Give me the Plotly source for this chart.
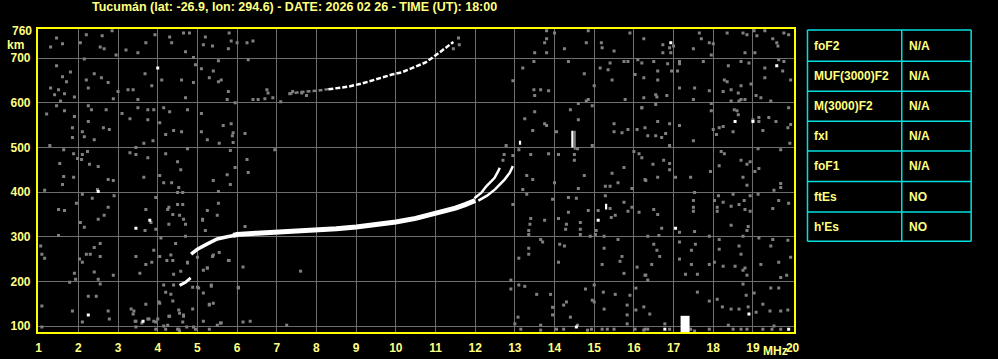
import plotly.graph_objects as go

W, H = 998, 359

TITLE = "Tucumán (lat: -26.9, lon: 294.6) - DATE: 2026 02 26 - TIME (UT): 18:00"
FREQ_TICKS = list(range(1, 21))
HEIGHT_TICKS = [100, 200, 300, 400, 500, 600, 700]

# ---- echo traces (frequency MHz, virtual height km) ----
E_LOW_F = [4.55, 4.70, 4.83]
E_LOW_H = [191, 198, 208]

F_LEAD_F = [4.84, 5.0, 5.25, 5.5, 5.75, 6.0]
F_LEAD_H = [261, 272, 284, 295, 300, 304]

F_MAIN_F = [5.9, 6.0, 6.5, 7.0, 7.5, 8.0, 8.5, 9.0, 9.5, 10.0, 10.5, 11.0, 11.5, 11.75, 12.0]
F_MAIN_H = [303, 305, 308, 310, 312, 315, 318, 322, 327, 333, 341, 352, 364, 372, 381]

BRANCH_O_F = [11.98, 12.15, 12.28, 12.49, 12.58, 12.62]
BRANCH_O_H = [386, 398, 413, 432, 447, 454]

BRANCH_X_F = [12.08, 12.3, 12.5, 12.74, 12.87, 12.95]
BRANCH_X_H = [381, 392, 406, 428, 443, 458]

HOP2_GRAY_F = [7.3, 7.6, 8.0, 8.35]
HOP2_GRAY_H = [620, 624, 627, 631]
HOP2_F = [8.3, 8.8, 9.15, 9.55, 9.9, 10.15, 10.4, 10.75, 11.08, 11.3, 11.45]
HOP2_H = [630, 636, 643, 654, 663, 668, 677, 690, 711, 726, 736]

# short vertical echoes: (freq, h_bottom, h_top)
WHITE_BARS = [(14.45, 500, 537), (15.30, 361, 374), (13.13, 506, 515)]
GRAY_BARS = [(14.51, 495, 537)]
BLOCK = (17.29, 86, 123)

# ---- scattered noise (freq, height) ----
NOISE = [
    (1.45, 745), (1.30, 725), (1.60, 732), (2.20, 752), (2.60, 750), (2.05, 734), (2.85, 761), (2.55, 725),
    (2.65, 721), (2.95, 707), (2.15, 698), (1.45, 683), (1.80, 669), (1.60, 658), (1.70, 647), (1.30, 633),
    (1.40, 618), (1.65, 620), (1.50, 629), (1.90, 613), (1.55, 604), (1.45, 593), (1.65, 582), (1.20, 575),
    (1.90, 569), (2.20, 651), (2.25, 633), (2.40, 665), (2.58, 656), (2.75, 645), (2.88, 609), (2.25, 593),
    (2.33, 584), (2.25, 558), (2.70, 584), (1.85, 544), (1.85, 522), (2.10, 535), (2.15, 524), (2.40, 517),
    (2.63, 544), (2.78, 540), (1.28, 504), (1.63, 495), (1.88, 486), (2.10, 484), (2.23, 491), (1.98, 475),
    (1.53, 464), (1.88, 433), (1.63, 435), (2.08, 473), (2.28, 462), (2.50, 457), (2.88, 426), (2.75, 428),
    (1.60, 417), (1.15, 404), (2.48, 406), (2.10, 395), (2.35, 386), (2.90, 392), (1.95, 375), (1.50, 361),
    (1.65, 359), (2.05, 332), (2.15, 321), (2.50, 339), (2.75, 366), (2.65, 348), (1.50, 303), (1.05, 279),
    (1.08, 261), (1.15, 252), (2.40, 276), (2.55, 285), (2.55, 256), (2.20, 261), (2.30, 261), (2.03, 250),
    (2.10, 243), (1.90, 218), (1.78, 198), (1.93, 205), (2.40, 221), (2.88, 214), (2.50, 205), (2.55, 194),
    (1.08, 145), (2.25, 167), (2.45, 167), (1.85, 134), (2.75, 134), (2.78, 116), (2.10, 109), (1.08, 98),
    (4.30, 747), (4.65, 756), (4.80, 756), (4.35, 734), (3.70, 734), (3.93, 752), (5.20, 747), (5.80, 756),
    (5.85, 738), (6.00, 734), (6.25, 734), (6.40, 738), (5.78, 721), (5.38, 727), (5.15, 730), (4.70, 714),
    (3.50, 712), (3.20, 718), (4.90, 701), (5.53, 694), (6.28, 696), (4.95, 685), (5.10, 676), (5.40, 671),
    (3.68, 665), (4.10, 651), (4.60, 651), (4.90, 645), (5.30, 656), (5.60, 651), (5.53, 647), (3.85, 638),
    (3.25, 629), (3.38, 629), (3.00, 625), (3.50, 607), (4.70, 611), (5.78, 625), (5.75, 607), (5.95, 600),
    (6.40, 607), (6.53, 607), (6.70, 609), (6.75, 629), (6.78, 622), (6.90, 611), (7.10, 602), (7.33, 620),
    (7.40, 625), (7.63, 622), (7.75, 616), (3.50, 589), (3.75, 584), (3.90, 584), (4.15, 589), (4.30, 580),
    (4.75, 584), (5.10, 576), (3.10, 576), (3.30, 564), (3.75, 562), (4.05, 555), (4.20, 529), (4.40, 538),
    (4.60, 535), (5.25, 517), (5.55, 509), (5.65, 549), (5.85, 553), (5.90, 533), (5.88, 526), (5.90, 511),
    (6.20, 531), (5.10, 535), (3.65, 509), (3.88, 515), (3.45, 500), (3.30, 488), (3.45, 484), (3.75, 477),
    (4.20, 486), (4.75, 497), (4.50, 468), (4.58, 450), (5.83, 493), (6.25, 473), (6.95, 495), (5.95, 455),
    (5.75, 439), (6.28, 444), (4.05, 437), (3.65, 433), (4.15, 421), (4.35, 421), (4.53, 410), (5.40, 426),
    (5.83, 417), (5.53, 401), (4.50, 399), (4.63, 399), (3.95, 388), (3.70, 361), (4.25, 361), (4.28, 366),
    (4.50, 372), (4.63, 372), (4.55, 348), (4.65, 339), (4.38, 350), (4.28, 328), (3.83, 332), (3.68, 314),
    (3.95, 317), (5.25, 359), (5.13, 337), (5.50, 348), (5.53, 375), (5.20, 314), (4.70, 301), (4.08, 297),
    (4.45, 285), (3.90, 270), (3.45, 256), (4.05, 256), (4.23, 247), (4.38, 247), (3.70, 238), (3.85, 243),
    (4.75, 241), (5.25, 230), (5.38, 256), (5.78, 247), (6.15, 232), (3.55, 218), (4.40, 216), (4.15, 192),
    (4.40, 192), (4.03, 154), (4.38, 156), (3.70, 149), (4.20, 176), (4.33, 171), (5.03, 185), (5.15, 174),
    (5.35, 192), (5.30, 149), (5.40, 151), (4.53, 136), (4.65, 125), (4.28, 122), (3.75, 116), (3.43, 111),
    (3.38, 127), (3.95, 109), (4.15, 100), (4.53, 93), (5.15, 111), (5.58, 107), (6.03, 185), (6.15, 109),
    (6.33, 111), (7.25, 102), (7.60, 223), (4.33, 259), (3.33, 138), (3.40, 134), (4.05, 151), (4.30, 122),
    (4.65, 122), (4.55, 129), (4.88, 138), (3.45, 111), (3.78, 116), (3.90, 111), (4.00, 116), (3.60, 107),
    (4.25, 102), (3.95, 93), (4.20, 93), (4.50, 93), (4.55, 89), (4.73, 98), (4.90, 98), (4.95, 93),
    (3.45, 98), (4.63, 109), (5.30, 93), (5.50, 102), (5.60, 107), (5.30, 147), (4.70, 328), (5.13, 339),
    (6.20, 323), (5.40, 259), (5.55, 265), (5.80, 247), (4.75, 243), (5.00, 254), (5.25, 230), (5.15, 225),
    (4.58, 223), (5.00, 187), (4.88, 187), (5.35, 189), (6.03, 187), (11.58, 745), (11.60, 730), (11.45, 721),
    (13.80, 761), (14.00, 756), (14.85, 761), (15.90, 756), (13.80, 743), (13.75, 734), (14.80, 734), (15.18, 734),
    (15.20, 723), (14.25, 721), (15.50, 716), (16.25, 743), (13.50, 712), (13.80, 712), (13.48, 692), (14.35, 692),
    (13.20, 678), (15.40, 689), (15.75, 692), (15.85, 692), (15.15, 678), (15.35, 674), (16.10, 696), (16.20, 689),
    (16.03, 663), (14.75, 665), (16.25, 656), (15.45, 651), (12.95, 649), (13.48, 629), (13.65, 629), (13.85, 627),
    (13.50, 616), (15.00, 638), (14.85, 607), (14.80, 604), (15.78, 607), (16.25, 611), (14.60, 598), (14.95, 593),
    (14.40, 584), (16.20, 589), (13.50, 580), (13.25, 564), (14.60, 562), (13.75, 553), (13.80, 549), (15.50, 553),
    (13.45, 538), (14.05, 535), (15.50, 535), (15.70, 533), (15.85, 540), (16.08, 540), (16.28, 544), (14.58, 497),
    (12.78, 504), (13.10, 495), (13.40, 484), (13.85, 486), (14.10, 484), (14.50, 484), (14.50, 471), (14.95, 504),
    (16.00, 491), (16.13, 486), (16.20, 477), (12.70, 471), (12.73, 484), (12.95, 482), (13.30, 437), (13.45, 428),
    (14.00, 421), (14.75, 437), (15.45, 442), (15.75, 455), (15.60, 421), (15.28, 413), (15.40, 413), (14.60, 408),
    (15.95, 408), (16.28, 428), (12.95, 372), (13.30, 395), (13.20, 406), (13.95, 384), (14.35, 388), (14.55, 386),
    (15.28, 392), (15.40, 363), (15.10, 359), (14.85, 359), (15.53, 348), (15.43, 343), (15.75, 377), (15.95, 366),
    (16.13, 355), (15.85, 357), (13.40, 341), (13.75, 337), (14.10, 341), (14.35, 355), (14.65, 332), (14.30, 328),
    (15.05, 314), (15.03, 305), (15.25, 301), (14.65, 317), (13.38, 328), (13.35, 314), (13.35, 305), (13.65, 294),
    (13.70, 288), (14.28, 317), (14.65, 305), (14.90, 301), (15.60, 294), (14.13, 283), (14.25, 279), (13.35, 274),
    (13.35, 261), (13.10, 252), (14.10, 243), (15.25, 274), (15.70, 256), (15.65, 245), (15.75, 218), (16.08, 232),
    (16.28, 214), (15.20, 238), (12.90, 203), (12.90, 183), (13.10, 192), (13.25, 189), (15.00, 192), (14.78, 183),
    (13.55, 171), (13.90, 171), (14.30, 154), (14.23, 147), (13.95, 142), (14.95, 158), (15.00, 154), (15.23, 176),
    (15.53, 171), (15.90, 169), (16.05, 185), (15.83, 147), (15.25, 138), (13.08, 120), (13.95, 125), (14.40, 120),
    (15.83, 125), (16.05, 136), (16.25, 143), (13.00, 105), (13.15, 93), (13.65, 102), (13.65, 91), (14.05, 93),
    (14.23, 93), (14.58, 102), (14.83, 91), (14.93, 93), (15.20, 93), (15.33, 93), (15.50, 93), (15.83, 105),
    (16.03, 93), (16.25, 91), (16.90, 723), (16.93, 712), (16.73, 712), (16.73, 730), (17.00, 727), (17.65, 756),
    (17.70, 743), (17.90, 734), (18.00, 732), (17.95, 707), (18.35, 756), (18.75, 756), (18.85, 752), (19.03, 761),
    (19.30, 761), (19.10, 750), (19.50, 743), (19.60, 734), (19.78, 756), (19.90, 752), (19.63, 727), (17.50, 721),
    (18.80, 712), (19.05, 712), (16.50, 692), (16.85, 687), (17.15, 692), (17.15, 687), (17.75, 692), (18.70, 692),
    (18.90, 689), (19.65, 696), (19.78, 692), (18.38, 683), (19.30, 678), (16.60, 671), (16.60, 651), (16.95, 671),
    (17.10, 671), (18.28, 651), (18.35, 647), (18.70, 638), (18.95, 642), (19.30, 656), (19.75, 671), (19.95, 651),
    (17.15, 633), (17.53, 633), (17.90, 627), (18.45, 629), (18.63, 622), (18.25, 625), (16.55, 618), (16.58, 613),
    (16.83, 616), (17.50, 607), (18.45, 604), (18.70, 607), (18.80, 607), (19.08, 616), (19.20, 611), (19.45, 604),
    (18.65, 604), (17.95, 598), (16.55, 596), (16.20, 589), (18.53, 584), (18.60, 582), (18.63, 573), (17.95, 582),
    (19.90, 589), (19.95, 551), (19.88, 544), (19.00, 562), (19.15, 567), (19.15, 558), (19.40, 567), (19.58, 558),
    (19.25, 538), (18.25, 547), (18.15, 544), (18.50, 535), (18.08, 529), (18.00, 540), (17.15, 549), (16.90, 553),
    (16.60, 558), (16.35, 526), (16.55, 526), (16.70, 522), (16.80, 531), (16.90, 504), (17.50, 515), (19.93, 509),
    (19.13, 497), (19.70, 495), (18.20, 491), (18.28, 486), (16.48, 462), (16.75, 471), (16.90, 464), (16.90, 450),
    (17.43, 433), (17.05, 433), (16.30, 426), (16.60, 433), (17.93, 446), (18.15, 459), (18.70, 471), (18.85, 462),
    (18.93, 468), (19.05, 446), (19.15, 453), (18.75, 433), (18.85, 415), (19.70, 419), (19.70, 410), (19.53, 404),
    (17.53, 399), (18.13, 392), (18.50, 395), (17.50, 381), (17.50, 366), (17.50, 357), (18.03, 381), (18.10, 366),
    (18.10, 357), (18.25, 377), (18.45, 368), (18.65, 372), (18.78, 381), (18.93, 392), (18.80, 361), (18.93, 357),
    (19.13, 395), (19.50, 363), (19.65, 381), (19.90, 375), (16.50, 361), (16.60, 350), (16.70, 319), (16.35, 301),
    (16.63, 303), (17.15, 310), (17.53, 312), (17.90, 301), (18.45, 326), (18.88, 323), (18.85, 314), (18.75, 301),
    (18.15, 294), (19.15, 297), (19.50, 294), (16.50, 283), (16.58, 270), (16.65, 256), (17.15, 288), (17.45, 270),
    (17.55, 283), (18.15, 272), (18.65, 279), (18.70, 261), (19.45, 279), (19.88, 292), (19.95, 254), (16.45, 238),
    (17.15, 250), (17.45, 238), (17.90, 238), (18.03, 243), (18.25, 234), (18.55, 234), (18.75, 225), (18.80, 230),
    (18.85, 214), (19.20, 238), (19.65, 243), (19.85, 214), (19.70, 209), (16.30, 214), (16.35, 203), (17.30, 216),
    (17.60, 216), (18.75, 194), (18.83, 169), (19.03, 174), (19.45, 185), (19.65, 185), (17.60, 176), (17.90, 156),
    (18.10, 160), (18.23, 143), (18.45, 138), (18.65, 138), (18.88, 143), (19.08, 131), (19.25, 149), (19.43, 134),
    (19.70, 134), (19.88, 136), (16.40, 127), (16.78, 105), (16.90, 93), (17.43, 93), (17.53, 89), (17.90, 93),
    (18.38, 102), (18.50, 93), (18.70, 93), (18.85, 93), (19.25, 93), (19.48, 93), (19.53, 100), (19.70, 93),
    (16.28, 93), (16.35, 93),
]

WHITE_DOTS = [
    (2.50, 401), (2.25, 125), (4.00, 678), (3.80, 337), (3.45, 319), (3.63, 111), (15.10, 337), (14.55, 98),
    (16.93, 734), (19.60, 683), (18.55, 558), (19.00, 558), (17.05, 319), (18.90, 127), (16.78, 93), (19.90, 93),
]

TABLE_PARAMS = ["foF2", "MUF(3000)F2", "M(3000)F2", "fxI", "foF1", "ftEs", "h'Es"]
TABLE_VALUES = ["N/A", "N/A", "N/A", "N/A", "N/A", "NO", "NO"]

# ---- styling ----
BG = "#000000"
FRAME = "#ffff00"
TEXT = "#ffff80"
GRID = "#6e6e6e"
NOISE_C = "#808080"
CYAN = "#00e0e0"
FONT = "Liberation Sans"

# layout (pixel geometry of the page)
PLOT_L, PLOT_R, PLOT_T, PLOT_B = 36, 798, 29, 333
TABLE_L, TABLE_MID, TABLE_R = 812, 907, 977
TABLE_ROWS_PX = [30, 61.5, 91.5, 121.5, 151.5, 182, 212.5, 242]


def px(x):
    return x / W


def py(y):
    return 1 - y / H


fig = go.Figure()


def add_line(f, h, color, width, dash=None):
    fig.add_trace(go.Scatter(x=f, y=h, mode="lines",
                             line=dict(color=color, width=width, dash=dash),
                             hoverinfo="skip", showlegend=False))


# noise
fig.add_trace(go.Scatter(x=[p[0] for p in NOISE], y=[p[1] for p in NOISE], mode="markers",
                         marker=dict(symbol="square", size=3, color=NOISE_C, line=dict(width=0)),
                         hoverinfo="skip", showlegend=False))
fig.add_trace(go.Scatter(x=[p[0] for p in WHITE_DOTS], y=[p[1] for p in WHITE_DOTS], mode="markers",
                         marker=dict(symbol="square", size=3, color="#ffffff", line=dict(width=0)),
                         hoverinfo="skip", showlegend=False))

for f, h0, h1 in GRAY_BARS:
    add_line([f, f], [h0, h1], NOISE_C, 2)
for f, h0, h1 in WHITE_BARS:
    add_line([f, f], [h0, h1], "#ffffff", 2.2)
add_line([BLOCK[0], BLOCK[0]], [BLOCK[1], BLOCK[2]], "#ffffff", 9)

# echoes
add_line(E_LOW_F, E_LOW_H, "#ffffff", 3)
add_line(F_LEAD_F, F_LEAD_H, "#ffffff", 3.5)
add_line(F_MAIN_F, F_MAIN_H, "#ffffff", 5)
add_line(BRANCH_O_F, BRANCH_O_H, "#ffffff", 2.5)
add_line(BRANCH_X_F, BRANCH_X_H, "#ffffff", 2.5)
add_line(HOP2_GRAY_F, HOP2_GRAY_H, NOISE_C, 2.5, "4px,2px")
add_line(HOP2_F, HOP2_H, "#ffffff", 2.5, "5px,2px")

tick_font = dict(family=FONT, size=12, color=TEXT, weight="bold")
title_font = dict(family=FONT, size=12.5, color=TEXT, weight="bold")

fig.update_layout(
    width=W, height=H,
    margin=dict(l=0, r=0, t=0, b=0),
    paper_bgcolor=BG, plot_bgcolor=BG,
    showlegend=False,
    xaxis=dict(domain=[px(PLOT_L), px(PLOT_R)], range=[0.975, 20.025],
               tickvals=FREQ_TICKS, ticktext=[str(v) for v in FREQ_TICKS],
               showgrid=True, gridcolor=GRID, gridwidth=1, zeroline=False,
               showline=True, linecolor=FRAME, linewidth=1.5, mirror=True,
               ticks="", ticklabelstandoff=4, tickfont=tick_font),
    yaxis=dict(domain=[py(PLOT_B), py(PLOT_T)], range=[86.6, 765.2],
               tickvals=HEIGHT_TICKS, ticktext=[str(v) for v in HEIGHT_TICKS],
               showgrid=True, gridcolor=GRID, gridwidth=1, zeroline=False,
               showline=True, linecolor=FRAME, linewidth=1.5, mirror=True,
               ticks="", ticklabelstandoff=3, tickfont=tick_font),
)

annotations = [
    dict(text=TITLE, x=px(295), y=py(7), xref="paper", yref="paper", xanchor="center", yanchor="middle",
         showarrow=False, font=title_font),
    dict(text="760", x=px(32), y=py(31), xref="paper", yref="paper", xanchor="right", yanchor="middle",
         showarrow=False, font=tick_font),
    dict(text="km", x=px(14), y=py(45), xref="paper", yref="paper", xanchor="center", yanchor="middle",
         showarrow=False, font=tick_font),
    dict(text="MHz", x=px(780), y=py(352), xref="paper", yref="paper", xanchor="center", yanchor="middle",
         showarrow=False, font=tick_font),
]

shapes = []
for yy in TABLE_ROWS_PX:
    shapes.append(dict(type="line", xref="paper", yref="paper", x0=px(TABLE_L), x1=px(TABLE_R),
                       y0=py(yy), y1=py(yy), line=dict(color=CYAN, width=1.5)))
for xx in (TABLE_L, TABLE_MID, TABLE_R):
    shapes.append(dict(type="line", xref="paper", yref="paper", x0=px(xx), x1=px(xx),
                       y0=py(TABLE_ROWS_PX[0]), y1=py(TABLE_ROWS_PX[-1]), line=dict(color=CYAN, width=1.5)))

table_font = dict(family=FONT, size=12, color=TEXT, weight="bold")
for i, (name, val) in enumerate(zip(TABLE_PARAMS, TABLE_VALUES)):
    yc = (TABLE_ROWS_PX[i] + TABLE_ROWS_PX[i + 1]) / 2
    annotations.append(dict(text=name, x=px(TABLE_L + 5), y=py(yc), xref="paper", yref="paper",
                            xanchor="left", yanchor="middle", showarrow=False, font=table_font))
    annotations.append(dict(text=val, x=px(TABLE_MID + 5), y=py(yc), xref="paper", yref="paper",
                            xanchor="left", yanchor="middle", showarrow=False, font=table_font))

fig.update_layout(annotations=annotations, shapes=shapes)
fig.write_html("out.html")
